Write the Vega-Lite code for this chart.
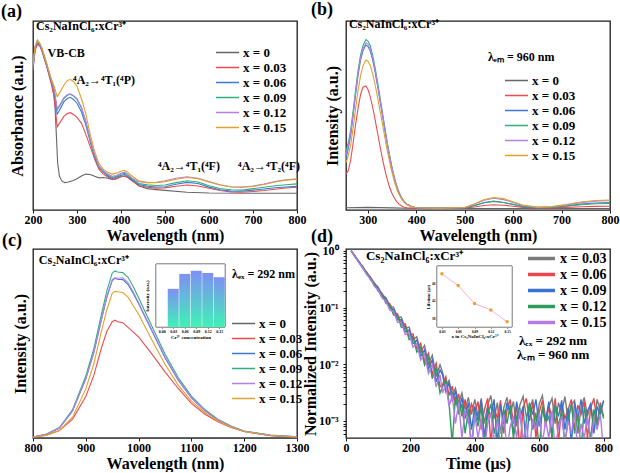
{
"$schema":"https://vega.github.io/schema/vega-lite/v6.json",
"padding":0,
"background":"white",
"columns":2,
"spacing":{"row":39,"column":49},
"bounds":"flush",
"config":{
 "font":"Liberation Serif",
 "view":{"stroke":"#1a1a1a","strokeWidth":1.3},
 "axis":{"grid":false,"domain":false,"labelFont":"Liberation Serif","labelFontWeight":"bold","labelFontSize":12,"labelColor":"#000","labelFlush":false,"labelPadding":1,"tickColor":"#1a1a1a","tickSize":3,"titleFont":"Liberation Serif","titleFontWeight":"bold","titleFontSize":16,"titleColor":"#000","titlePadding":2},
 "legend":{"labelFont":"Liberation Serif","labelFontWeight":"bold","labelFontSize":13,"labelColor":"#000","symbolType":"M-2,0H2","symbolSize":132,"rowPadding":1,"labelOffset":9},
 "title":{"font":"Liberation Serif","fontSize":18,"fontWeight":"bold","anchor":"start","frame":"group","color":"#000","offset":-1},
 "text":{"font":"Liberation Serif","fontWeight":"bold","fontSize":12,"color":"#000","align":"left","baseline":"middle"}
},
"resolve":{"scale":{"color":"independent","x":"independent","y":"independent"},"legend":{"color":"independent"}},
"concat":[
{
 "width":264,"height":189,
 "title":{"text":"(a)","dx":-32},
 "layer":[
  {"data":{"values":[
{"s":0,"w":200,"v":0.76},{"s":0,"w":205,"v":0.86},{"s":0,"w":210,"v":0.885},{"s":0,"w":215,"v":0.87},{"s":0,"w":220,"v":0.845},{"s":0,"w":230,"v":0.77},{"s":0,"w":240,"v":0.69},{"s":0,"w":245,"v":0.655},{"s":0,"w":250,"v":0.55},{"s":0,"w":253,"v":0.40},
{"s":0,"w":256,"v":0.25},{"s":0,"w":260,"v":0.18},{"s":0,"w":265,"v":0.155},{"s":0,"w":272,"v":0.145},{"s":0,"w":280,"v":0.148},{"s":0,"w":290,"v":0.155},{"s":0,"w":300,"v":0.165},{"s":0,"w":310,"v":0.18},{"s":0,"w":320,"v":0.19},{"s":0,"w":330,"v":0.188},
{"s":0,"w":340,"v":0.178},{"s":0,"w":350,"v":0.17},{"s":0,"w":360,"v":0.172},{"s":0,"w":370,"v":0.168},{"s":0,"w":380,"v":0.162},{"s":0,"w":390,"v":0.166},{"s":0,"w":400,"v":0.176},{"s":0,"w":408,"v":0.18},{"s":0,"w":415,"v":0.173},{"s":0,"w":425,"v":0.158},
{"s":0,"w":440,"v":0.128},{"s":0,"w":460,"v":0.113},{"s":0,"w":480,"v":0.108},{"s":0,"w":500,"v":0.104},{"s":0,"w":550,"v":0.094},{"s":0,"w":600,"v":0.09},{"s":0,"w":700,"v":0.089},{"s":0,"w":800,"v":0.089},
{"s":0.03,"w":200,"v":0.74},{"s":0.03,"w":205,"v":0.845},{"s":0.03,"w":210,"v":0.875},{"s":0.03,"w":215,"v":0.87},{"s":0.03,"w":220,"v":0.845},{"s":0.03,"w":230,"v":0.77},{"s":0.03,"w":240,"v":0.68},{"s":0.03,"w":248,"v":0.6},{"s":0.03,"w":255,"v":0.44},{"s":0.03,"w":262,"v":0.465},{"s":0.03,"w":270,"v":0.495},{"s":0.03,"w":278,"v":0.51},{"s":0.03,"w":285,"v":0.515},{"s":0.03,"w":292,"v":0.505},{"s":0.03,"w":300,"v":0.49},{"s":0.03,"w":310,"v":0.46},{"s":0.03,"w":320,"v":0.4},{"s":0.03,"w":330,"v":0.335},{"s":0.03,"w":340,"v":0.27},{"s":0.03,"w":350,"v":0.215},{"s":0.03,"w":360,"v":0.19},{"s":0.03,"w":370,"v":0.175},{"s":0.03,"w":380,"v":0.16},{"s":0.03,"w":390,"v":0.166},{"s":0.03,"w":400,"v":0.177},{"s":0.03,"w":408,"v":0.18},{"s":0.03,"w":415,"v":0.172},{"s":0.03,"w":425,"v":0.155},{"s":0.03,"w":440,"v":0.13},{"s":0.03,"w":460,"v":0.12},{"s":0.03,"w":480,"v":0.116},{"s":0.03,"w":500,"v":0.117},{"s":0.03,"w":525,"v":0.126},{"s":0.03,"w":550,"v":0.132},{"s":0.03,"w":575,"v":0.127},{"s":0.03,"w":600,"v":0.115},{"s":0.03,"w":625,"v":0.103},{"s":0.03,"w":650,"v":0.095},{"s":0.03,"w":675,"v":0.094},{"s":0.03,"w":700,"v":0.098},{"s":0.03,"w":725,"v":0.103},{"s":0.03,"w":750,"v":0.11},{"s":0.03,"w":775,"v":0.116},{"s":0.03,"w":800,"v":0.12},
{"s":0.06,"w":200,"v":0.76},{"s":0.06,"w":205,"v":0.86},{"s":0.06,"w":210,"v":0.885},{"s":0.06,"w":215,"v":0.875},{"s":0.06,"w":220,"v":0.85},{"s":0.06,"w":230,"v":0.775},{"s":0.06,"w":240,"v":0.695},{"s":0.06,"w":248,"v":0.63},{"s":0.06,"w":255,"v":0.507},{"s":0.06,"w":262,"v":0.535},{"s":0.06,"w":270,"v":0.572},{"s":0.06,"w":278,"v":0.59},{"s":0.06,"w":285,"v":0.596},{"s":0.06,"w":292,"v":0.585},{"s":0.06,"w":300,"v":0.565},{"s":0.06,"w":310,"v":0.52},{"s":0.06,"w":320,"v":0.45},{"s":0.06,"w":330,"v":0.36},{"s":0.06,"w":340,"v":0.28},{"s":0.06,"w":350,"v":0.225},{"s":0.06,"w":360,"v":0.2},{"s":0.06,"w":370,"v":0.18},{"s":0.06,"w":380,"v":0.167},{"s":0.06,"w":390,"v":0.173},{"s":0.06,"w":400,"v":0.183},{"s":0.06,"w":408,"v":0.188},{"s":0.06,"w":415,"v":0.178},{"s":0.06,"w":425,"v":0.16},{"s":0.06,"w":440,"v":0.135},{"s":0.06,"w":460,"v":0.126},{"s":0.06,"w":480,"v":0.122},{"s":0.06,"w":500,"v":0.123},{"s":0.06,"w":525,"v":0.136},{"s":0.06,"w":550,"v":0.146},{"s":0.06,"w":575,"v":0.14},{"s":0.06,"w":600,"v":0.121},{"s":0.06,"w":625,"v":0.107},{"s":0.06,"w":650,"v":0.1},{"s":0.06,"w":675,"v":0.099},{"s":0.06,"w":700,"v":0.105},{"s":0.06,"w":725,"v":0.111},{"s":0.06,"w":750,"v":0.118},{"s":0.06,"w":775,"v":0.122},{"s":0.06,"w":800,"v":0.125},
{"s":0.09,"w":200,"v":0.765},{"s":0.09,"w":205,"v":0.865},{"s":0.09,"w":210,"v":0.89},{"s":0.09,"w":215,"v":0.88},{"s":0.09,"w":220,"v":0.855},{"s":0.09,"w":230,"v":0.78},{"s":0.09,"w":240,"v":0.7},{"s":0.09,"w":248,"v":0.635},{"s":0.09,"w":255,"v":0.53},{"s":0.09,"w":262,"v":0.555},{"s":0.09,"w":270,"v":0.59},{"s":0.09,"w":278,"v":0.607},{"s":0.09,"w":285,"v":0.612},{"s":0.09,"w":292,"v":0.603},{"s":0.09,"w":300,"v":0.585},{"s":0.09,"w":310,"v":0.54},{"s":0.09,"w":320,"v":0.465},{"s":0.09,"w":330,"v":0.37},{"s":0.09,"w":340,"v":0.29},{"s":0.09,"w":350,"v":0.23},{"s":0.09,"w":360,"v":0.205},{"s":0.09,"w":370,"v":0.185},{"s":0.09,"w":380,"v":0.172},{"s":0.09,"w":390,"v":0.178},{"s":0.09,"w":400,"v":0.19},{"s":0.09,"w":408,"v":0.195},{"s":0.09,"w":415,"v":0.185},{"s":0.09,"w":425,"v":0.165},{"s":0.09,"w":440,"v":0.14},{"s":0.09,"w":460,"v":0.133},{"s":0.09,"w":480,"v":0.13},{"s":0.09,"w":500,"v":0.132},{"s":0.09,"w":525,"v":0.145},{"s":0.09,"w":550,"v":0.155},{"s":0.09,"w":575,"v":0.148},{"s":0.09,"w":600,"v":0.128},{"s":0.09,"w":625,"v":0.114},{"s":0.09,"w":650,"v":0.107},{"s":0.09,"w":675,"v":0.105},{"s":0.09,"w":700,"v":0.113},{"s":0.09,"w":725,"v":0.12},{"s":0.09,"w":750,"v":0.128},{"s":0.09,"w":775,"v":0.134},{"s":0.09,"w":800,"v":0.138},
{"s":0.12,"w":200,"v":0.765},{"s":0.12,"w":205,"v":0.865},{"s":0.12,"w":210,"v":0.89},{"s":0.12,"w":215,"v":0.88},{"s":0.12,"w":220,"v":0.855},{"s":0.12,"w":230,"v":0.78},{"s":0.12,"w":240,"v":0.7},{"s":0.12,"w":248,"v":0.64},{"s":0.12,"w":255,"v":0.535},{"s":0.12,"w":262,"v":0.56},{"s":0.12,"w":270,"v":0.595},{"s":0.12,"w":278,"v":0.61},{"s":0.12,"w":285,"v":0.615},{"s":0.12,"w":292,"v":0.605},{"s":0.12,"w":300,"v":0.59},{"s":0.12,"w":310,"v":0.545},{"s":0.12,"w":320,"v":0.47},{"s":0.12,"w":330,"v":0.375},{"s":0.12,"w":340,"v":0.295},{"s":0.12,"w":350,"v":0.232},{"s":0.12,"w":360,"v":0.207},{"s":0.12,"w":370,"v":0.19},{"s":0.12,"w":380,"v":0.178},{"s":0.12,"w":390,"v":0.183},{"s":0.12,"w":400,"v":0.195},{"s":0.12,"w":408,"v":0.2},{"s":0.12,"w":415,"v":0.19},{"s":0.12,"w":425,"v":0.17},{"s":0.12,"w":440,"v":0.15},{"s":0.12,"w":460,"v":0.145},{"s":0.12,"w":480,"v":0.147},{"s":0.12,"w":500,"v":0.155},{"s":0.12,"w":525,"v":0.168},{"s":0.12,"w":550,"v":0.176},{"s":0.12,"w":575,"v":0.168},{"s":0.12,"w":600,"v":0.15},{"s":0.12,"w":625,"v":0.134},{"s":0.12,"w":650,"v":0.123},{"s":0.12,"w":675,"v":0.121},{"s":0.12,"w":700,"v":0.127},{"s":0.12,"w":725,"v":0.137},{"s":0.12,"w":750,"v":0.15},{"s":0.12,"w":775,"v":0.16},{"s":0.12,"w":800,"v":0.165},
{"s":0.15,"w":200,"v":0.77},{"s":0.15,"w":205,"v":0.87},{"s":0.15,"w":210,"v":0.9},{"s":0.15,"w":215,"v":0.885},{"s":0.15,"w":220,"v":0.86},{"s":0.15,"w":230,"v":0.785},{"s":0.15,"w":240,"v":0.705},{"s":0.15,"w":248,"v":0.655},{"s":0.15,"w":255,"v":0.6},{"s":0.15,"w":262,"v":0.625},{"s":0.15,"w":270,"v":0.66},{"s":0.15,"w":278,"v":0.685},{"s":0.15,"w":285,"v":0.69},{"s":0.15,"w":292,"v":0.68},{"s":0.15,"w":300,"v":0.655},{"s":0.15,"w":310,"v":0.59},{"s":0.15,"w":320,"v":0.51},{"s":0.15,"w":330,"v":0.4},{"s":0.15,"w":340,"v":0.31},{"s":0.15,"w":350,"v":0.245},{"s":0.15,"w":360,"v":0.215},{"s":0.15,"w":370,"v":0.2},{"s":0.15,"w":380,"v":0.19},{"s":0.15,"w":390,"v":0.195},{"s":0.15,"w":400,"v":0.205},{"s":0.15,"w":408,"v":0.21},{"s":0.15,"w":415,"v":0.2},{"s":0.15,"w":425,"v":0.18},{"s":0.15,"w":440,"v":0.155},{"s":0.15,"w":460,"v":0.145},{"s":0.15,"w":480,"v":0.145},{"s":0.15,"w":500,"v":0.15},{"s":0.15,"w":525,"v":0.163},{"s":0.15,"w":550,"v":0.172},{"s":0.15,"w":575,"v":0.165},{"s":0.15,"w":600,"v":0.148},{"s":0.15,"w":625,"v":0.132},{"s":0.15,"w":650,"v":0.122},{"s":0.15,"w":675,"v":0.12},{"s":0.15,"w":700,"v":0.125},{"s":0.15,"w":725,"v":0.135},{"s":0.15,"w":750,"v":0.148},{"s":0.15,"w":775,"v":0.158},{"s":0.15,"w":800,"v":0.162}
  ]},
   "mark":{"type":"line","strokeWidth":1.1,"clip":true},
   "encoding":{
    "x":{"field":"w","type":"quantitative","scale":{"domain":[200,800],"nice":false,"zero":false},"axis":{"values":[200,250,300,350,400,450,500,550,600,650,700,750,800],"labelExpr":"datum.value % 100 == 0 ? datum.label : ''","title":"Wavelength (nm)"}},
    "y":{"field":"v","type":"quantitative","scale":{"domain":[0,1],"nice":false},"axis":{"labels":false,"ticks":false,"title":"Absorbance (a.u.)","titlePadding":8}},
    "color":{"field":"s","type":"nominal","scale":{"domain":[0,0.03,0.06,0.09,0.12,0.15],"range":["#666666","#ef4a4f","#3b78d6","#2fae7c","#b57fe9","#e2a12b"]},"legend":{"title":null,"orient":"none","legendX":188,"legendY":25,"symbolStrokeWidth":1.5,"labelExpr":"'x = ' + datum.label"}}
   }},
  {"data":{"values":[
{"w":206.8,"v":0.974,"lab":"Cs₂NaInCl₆:xCr³⁺"},{"w":233,"v":0.829,"lab":"VB-CB"},{"w":291,"v":0.688,"lab":"⁴A₂→⁴T₁(⁴P)"},{"w":484,"v":0.233,"lab":"⁴A₂→⁴T₁(⁴F)"},{"w":666,"v":0.233,"lab":"⁴A₂→⁴T₂(⁴F)"}
  ]},
   "mark":{"type":"text"},
   "encoding":{"x":{"field":"w","type":"quantitative"},"y":{"field":"v","type":"quantitative"},"text":{"field":"lab"}}}
 ]
},
{
 "width":264,"height":189,
 "title":{"text":"(b)","dx":-35},
 "layer":[
  {"data":{"values":[
{"s":0,"w":255,"v":0.012},{"s":0,"w":300,"v":0.014},{"s":0,"w":350,"v":0.011},{"s":0,"w":400,"v":0.008},{"s":0,"w":500,"v":0.008},{"s":0,"w":600,"v":0.008},{"s":0,"w":700,"v":0.008},{"s":0,"w":800,"v":0.008},
{"s":0.03,"w":255,"v":0.19},{"s":0.03,"w":260,"v":0.21},{"s":0.03,"w":265,"v":0.27},{"s":0.03,"w":270,"v":0.36},{"s":0.03,"w":275,"v":0.455},{"s":0.03,"w":280,"v":0.54},{"s":0.03,"w":285,"v":0.61},{"s":0.03,"w":290,"v":0.65},{"s":0.03,"w":296,"v":0.656},{"s":0.03,"w":300,"v":0.64},{"s":0.03,"w":305,"v":0.6},{"s":0.03,"w":310,"v":0.545},{"s":0.03,"w":315,"v":0.48},{"s":0.03,"w":320,"v":0.41},{"s":0.03,"w":325,"v":0.34},{"s":0.03,"w":330,"v":0.275},{"s":0.03,"w":335,"v":0.215},{"s":0.03,"w":340,"v":0.163},{"s":0.03,"w":345,"v":0.12},{"s":0.03,"w":350,"v":0.087},{"s":0.03,"w":355,"v":0.062},{"s":0.03,"w":360,"v":0.043},{"s":0.03,"w":365,"v":0.03},{"s":0.03,"w":370,"v":0.021},{"s":0.03,"w":375,"v":0.015},{"s":0.03,"w":380,"v":0.012},{"s":0.03,"w":390,"v":0.01},{"s":0.03,"w":400,"v":0.009},{"s":0.03,"w":450,"v":0.009},{"s":0.03,"w":500,"v":0.01},{"s":0.03,"w":520,"v":0.016},{"s":0.03,"w":540,"v":0.024},{"s":0.03,"w":560,"v":0.028},{"s":0.03,"w":580,"v":0.025},{"s":0.03,"w":600,"v":0.02},{"s":0.03,"w":620,"v":0.014},{"s":0.03,"w":650,"v":0.011},{"s":0.03,"w":680,"v":0.011},{"s":0.03,"w":710,"v":0.014},{"s":0.03,"w":740,"v":0.017},{"s":0.03,"w":770,"v":0.019},{"s":0.03,"w":800,"v":0.02},
{"s":0.06,"w":255,"v":0.27},{"s":0.06,"w":260,"v":0.33},{"s":0.06,"w":265,"v":0.4},{"s":0.06,"w":270,"v":0.505},{"s":0.06,"w":275,"v":0.615},{"s":0.06,"w":280,"v":0.715},{"s":0.06,"w":285,"v":0.793},{"s":0.06,"w":290,"v":0.842},{"s":0.06,"w":296,"v":0.873},{"s":0.06,"w":300,"v":0.866},{"s":0.06,"w":305,"v":0.842},{"s":0.06,"w":310,"v":0.794},{"s":0.06,"w":315,"v":0.731},{"s":0.06,"w":320,"v":0.658},{"s":0.06,"w":325,"v":0.581},{"s":0.06,"w":330,"v":0.503},{"s":0.06,"w":335,"v":0.426},{"s":0.06,"w":340,"v":0.348},{"s":0.06,"w":345,"v":0.281},{"s":0.06,"w":350,"v":0.218},{"s":0.06,"w":355,"v":0.165},{"s":0.06,"w":360,"v":0.121},{"s":0.06,"w":365,"v":0.087},{"s":0.06,"w":370,"v":0.063},{"s":0.06,"w":375,"v":0.044},{"s":0.06,"w":380,"v":0.031},{"s":0.06,"w":390,"v":0.018},{"s":0.06,"w":400,"v":0.012},{"s":0.06,"w":450,"v":0.01},{"s":0.06,"w":500,"v":0.012},{"s":0.06,"w":520,"v":0.023},{"s":0.06,"w":540,"v":0.038},{"s":0.06,"w":560,"v":0.045},{"s":0.06,"w":580,"v":0.04},{"s":0.06,"w":600,"v":0.029},{"s":0.06,"w":620,"v":0.018},{"s":0.06,"w":650,"v":0.012},{"s":0.06,"w":680,"v":0.014},{"s":0.06,"w":710,"v":0.022},{"s":0.06,"w":740,"v":0.031},{"s":0.06,"w":770,"v":0.037},{"s":0.06,"w":800,"v":0.039},
{"s":0.09,"w":255,"v":0.31},{"s":0.09,"w":260,"v":0.36},{"s":0.09,"w":265,"v":0.43},{"s":0.09,"w":270,"v":0.53},{"s":0.09,"w":275,"v":0.64},{"s":0.09,"w":280,"v":0.74},{"s":0.09,"w":285,"v":0.82},{"s":0.09,"w":290,"v":0.87},{"s":0.09,"w":296,"v":0.902},{"s":0.09,"w":300,"v":0.895},{"s":0.09,"w":305,"v":0.87},{"s":0.09,"w":310,"v":0.82},{"s":0.09,"w":315,"v":0.755},{"s":0.09,"w":320,"v":0.68},{"s":0.09,"w":325,"v":0.6},{"s":0.09,"w":330,"v":0.52},{"s":0.09,"w":335,"v":0.44},{"s":0.09,"w":340,"v":0.36},{"s":0.09,"w":345,"v":0.29},{"s":0.09,"w":350,"v":0.225},{"s":0.09,"w":355,"v":0.17},{"s":0.09,"w":360,"v":0.125},{"s":0.09,"w":365,"v":0.09},{"s":0.09,"w":370,"v":0.065},{"s":0.09,"w":375,"v":0.045},{"s":0.09,"w":380,"v":0.032},{"s":0.09,"w":390,"v":0.018},{"s":0.09,"w":400,"v":0.012},{"s":0.09,"w":450,"v":0.01},{"s":0.09,"w":500,"v":0.012},{"s":0.09,"w":520,"v":0.024},{"s":0.09,"w":540,"v":0.04},{"s":0.09,"w":560,"v":0.047},{"s":0.09,"w":580,"v":0.04},{"s":0.09,"w":600,"v":0.03},{"s":0.09,"w":620,"v":0.019},{"s":0.09,"w":650,"v":0.012},{"s":0.09,"w":680,"v":0.014},{"s":0.09,"w":710,"v":0.021},{"s":0.09,"w":740,"v":0.028},{"s":0.09,"w":770,"v":0.033},{"s":0.09,"w":800,"v":0.034},
{"s":0.12,"w":255,"v":0.29},{"s":0.12,"w":260,"v":0.345},{"s":0.12,"w":265,"v":0.415},{"s":0.12,"w":270,"v":0.515},{"s":0.12,"w":275,"v":0.625},{"s":0.12,"w":280,"v":0.725},{"s":0.12,"w":285,"v":0.805},{"s":0.12,"w":290,"v":0.853},{"s":0.12,"w":296,"v":0.885},{"s":0.12,"w":300,"v":0.878},{"s":0.12,"w":305,"v":0.854},{"s":0.12,"w":310,"v":0.805},{"s":0.12,"w":315,"v":0.741},{"s":0.12,"w":320,"v":0.667},{"s":0.12,"w":325,"v":0.589},{"s":0.12,"w":330,"v":0.51},{"s":0.12,"w":335,"v":0.432},{"s":0.12,"w":340,"v":0.353},{"s":0.12,"w":345,"v":0.285},{"s":0.12,"w":350,"v":0.221},{"s":0.12,"w":355,"v":0.167},{"s":0.12,"w":360,"v":0.123},{"s":0.12,"w":365,"v":0.089},{"s":0.12,"w":370,"v":0.064},{"s":0.12,"w":375,"v":0.045},{"s":0.12,"w":380,"v":0.032},{"s":0.12,"w":390,"v":0.018},{"s":0.12,"w":400,"v":0.012},{"s":0.12,"w":450,"v":0.01},{"s":0.12,"w":500,"v":0.013},{"s":0.12,"w":520,"v":0.03},{"s":0.12,"w":540,"v":0.052},{"s":0.12,"w":560,"v":0.062},{"s":0.12,"w":580,"v":0.055},{"s":0.12,"w":600,"v":0.04},{"s":0.12,"w":620,"v":0.024},{"s":0.12,"w":650,"v":0.014},{"s":0.12,"w":680,"v":0.017},{"s":0.12,"w":710,"v":0.027},{"s":0.12,"w":740,"v":0.039},{"s":0.12,"w":770,"v":0.047},{"s":0.12,"w":800,"v":0.05},
{"s":0.15,"w":255,"v":0.25},{"s":0.15,"w":260,"v":0.29},{"s":0.15,"w":265,"v":0.35},{"s":0.15,"w":270,"v":0.44},{"s":0.15,"w":275,"v":0.54},{"s":0.15,"w":280,"v":0.635},{"s":0.15,"w":285,"v":0.71},{"s":0.15,"w":290,"v":0.762},{"s":0.15,"w":296,"v":0.794},{"s":0.15,"w":300,"v":0.788},{"s":0.15,"w":305,"v":0.766},{"s":0.15,"w":310,"v":0.722},{"s":0.15,"w":315,"v":0.664},{"s":0.15,"w":320,"v":0.598},{"s":0.15,"w":325,"v":0.528},{"s":0.15,"w":330,"v":0.458},{"s":0.15,"w":335,"v":0.387},{"s":0.15,"w":340,"v":0.317},{"s":0.15,"w":345,"v":0.255},{"s":0.15,"w":350,"v":0.198},{"s":0.15,"w":355,"v":0.15},{"s":0.15,"w":360,"v":0.11},{"s":0.15,"w":365,"v":0.079},{"s":0.15,"w":370,"v":0.057},{"s":0.15,"w":375,"v":0.04},{"s":0.15,"w":380,"v":0.029},{"s":0.15,"w":390,"v":0.017},{"s":0.15,"w":400,"v":0.012},{"s":0.15,"w":450,"v":0.01},{"s":0.15,"w":500,"v":0.013},{"s":0.15,"w":520,"v":0.032},{"s":0.15,"w":540,"v":0.056},{"s":0.15,"w":560,"v":0.066},{"s":0.15,"w":580,"v":0.06},{"s":0.15,"w":600,"v":0.044},{"s":0.15,"w":620,"v":0.026},{"s":0.15,"w":650,"v":0.015},{"s":0.15,"w":680,"v":0.018},{"s":0.15,"w":710,"v":0.029},{"s":0.15,"w":740,"v":0.042},{"s":0.15,"w":770,"v":0.05},{"s":0.15,"w":800,"v":0.053}
  ]},
   "mark":{"type":"line","strokeWidth":1.1,"clip":true},
   "encoding":{
    "x":{"field":"w","type":"quantitative","scale":{"domain":[255,800],"nice":false,"zero":false},"axis":{"values":[300,350,400,450,500,550,600,650,700,750,800],"labelExpr":"datum.value % 100 == 0 ? datum.label : ''","title":"Wavelength (nm)"}},
    "y":{"field":"v","type":"quantitative","scale":{"domain":[0,1],"nice":false},"axis":{"labels":false,"ticks":false,"title":"Intensity (a.u.)","titlePadding":6}},
    "color":{"field":"s","type":"nominal","scale":{"domain":[0,0.03,0.06,0.09,0.12,0.15],"range":["#666666","#ef4a4f","#3b78d6","#2fae7c","#b57fe9","#e2a12b"]},"legend":{"title":null,"orient":"none","legendX":164,"legendY":53,"symbolStrokeWidth":1.5,"labelExpr":"'x = ' + datum.label"}}
   }},
  {"data":{"values":[
{"w":261,"v":0.984,"lab":"Cs₂NaInCl₆:xCr³⁺"},{"w":548,"v":0.81,"lab":"λₑₘ = 960 nm"}
  ]},
   "mark":{"type":"text"},
   "encoding":{"x":{"field":"w","type":"quantitative"},"y":{"field":"v","type":"quantitative"},"text":{"field":"lab"}}}
 ]
},
{
 "width":264,"height":189,
 "title":{"text":"(c)","dx":-31},
 "resolve":{"scale":{"x":"independent","y":"independent"}},
 "layer":[
  {"layer":[
   {"data":{"values":[
{"s":0,"w":800,"v":0.003},{"s":0,"w":1050,"v":0.003},{"s":0,"w":1300,"v":0.003},
{"s":0.03,"w":800,"v":0.005},{"s":0.03,"w":825,"v":0.015},{"s":0.03,"w":850,"v":0.04},{"s":0.03,"w":875,"v":0.1},{"s":0.03,"w":900,"v":0.22},{"s":0.03,"w":915,"v":0.33},{"s":0.03,"w":930,"v":0.48},{"s":0.03,"w":940,"v":0.565},{"s":0.03,"w":950,"v":0.615},{"s":0.03,"w":955,"v":0.623},{"s":0.03,"w":960,"v":0.615},{"s":0.03,"w":970,"v":0.61},{"s":0.03,"w":980,"v":0.585},{"s":0.03,"w":990,"v":0.56},{"s":0.03,"w":1000,"v":0.535},{"s":0.03,"w":1025,"v":0.445},{"s":0.03,"w":1050,"v":0.35},{"s":0.03,"w":1075,"v":0.262},{"s":0.03,"w":1100,"v":0.183},{"s":0.03,"w":1125,"v":0.127},{"s":0.03,"w":1150,"v":0.086},{"s":0.03,"w":1175,"v":0.056},{"s":0.03,"w":1200,"v":0.034},{"s":0.03,"w":1250,"v":0.012},{"s":0.03,"w":1300,"v":0.004},
{"s":0.06,"w":800,"v":0.005},{"s":0.06,"w":825,"v":0.019},{"s":0.06,"w":850,"v":0.052},{"s":0.06,"w":875,"v":0.143},{"s":0.06,"w":900,"v":0.313},{"s":0.06,"w":915,"v":0.449},{"s":0.06,"w":930,"v":0.63},{"s":0.06,"w":940,"v":0.745},{"s":0.06,"w":950,"v":0.833},{"s":0.06,"w":955,"v":0.845},{"s":0.06,"w":960,"v":0.84},{"s":0.06,"w":970,"v":0.838},{"s":0.06,"w":980,"v":0.812},{"s":0.06,"w":990,"v":0.765},{"s":0.06,"w":1000,"v":0.71},{"s":0.06,"w":1025,"v":0.568},{"s":0.06,"w":1050,"v":0.425},{"s":0.06,"w":1075,"v":0.306},{"s":0.06,"w":1100,"v":0.212},{"s":0.06,"w":1125,"v":0.145},{"s":0.06,"w":1150,"v":0.095},{"s":0.06,"w":1175,"v":0.06},{"s":0.06,"w":1200,"v":0.035},{"s":0.06,"w":1250,"v":0.014},{"s":0.06,"w":1300,"v":0.006},
{"s":0.09,"w":800,"v":0.005},{"s":0.09,"w":825,"v":0.02},{"s":0.09,"w":850,"v":0.055},{"s":0.09,"w":875,"v":0.15},{"s":0.09,"w":900,"v":0.328},{"s":0.09,"w":915,"v":0.47},{"s":0.09,"w":930,"v":0.66},{"s":0.09,"w":940,"v":0.78},{"s":0.09,"w":950,"v":0.872},{"s":0.09,"w":955,"v":0.884},{"s":0.09,"w":960,"v":0.878},{"s":0.09,"w":970,"v":0.875},{"s":0.09,"w":980,"v":0.85},{"s":0.09,"w":990,"v":0.8},{"s":0.09,"w":1000,"v":0.742},{"s":0.09,"w":1025,"v":0.593},{"s":0.09,"w":1050,"v":0.444},{"s":0.09,"w":1075,"v":0.32},{"s":0.09,"w":1100,"v":0.222},{"s":0.09,"w":1125,"v":0.152},{"s":0.09,"w":1150,"v":0.099},{"s":0.09,"w":1175,"v":0.063},{"s":0.09,"w":1200,"v":0.037},{"s":0.09,"w":1250,"v":0.015},{"s":0.09,"w":1300,"v":0.006},
{"s":0.12,"w":800,"v":0.005},{"s":0.12,"w":825,"v":0.019},{"s":0.12,"w":850,"v":0.053},{"s":0.12,"w":875,"v":0.145},{"s":0.12,"w":900,"v":0.315},{"s":0.12,"w":915,"v":0.452},{"s":0.12,"w":930,"v":0.635},{"s":0.12,"w":940,"v":0.75},{"s":0.12,"w":950,"v":0.838},{"s":0.12,"w":955,"v":0.848},{"s":0.12,"w":960,"v":0.845},{"s":0.12,"w":970,"v":0.848},{"s":0.12,"w":980,"v":0.822},{"s":0.12,"w":990,"v":0.772},{"s":0.12,"w":1000,"v":0.716},{"s":0.12,"w":1025,"v":0.573},{"s":0.12,"w":1050,"v":0.43},{"s":0.12,"w":1075,"v":0.31},{"s":0.12,"w":1100,"v":0.215},{"s":0.12,"w":1125,"v":0.147},{"s":0.12,"w":1150,"v":0.096},{"s":0.12,"w":1175,"v":0.061},{"s":0.12,"w":1200,"v":0.036},{"s":0.12,"w":1250,"v":0.014},{"s":0.12,"w":1300,"v":0.006},
{"s":0.15,"w":800,"v":0.004},{"s":0.15,"w":825,"v":0.014},{"s":0.15,"w":850,"v":0.04},{"s":0.15,"w":875,"v":0.11},{"s":0.15,"w":900,"v":0.26},{"s":0.15,"w":915,"v":0.39},{"s":0.15,"w":930,"v":0.57},{"s":0.15,"w":940,"v":0.68},{"s":0.15,"w":950,"v":0.765},{"s":0.15,"w":955,"v":0.776},{"s":0.15,"w":960,"v":0.774},{"s":0.15,"w":970,"v":0.77},{"s":0.15,"w":980,"v":0.745},{"s":0.15,"w":990,"v":0.7},{"s":0.15,"w":1000,"v":0.655},{"s":0.15,"w":1025,"v":0.52},{"s":0.15,"w":1050,"v":0.39},{"s":0.15,"w":1075,"v":0.28},{"s":0.15,"w":1100,"v":0.195},{"s":0.15,"w":1125,"v":0.135},{"s":0.15,"w":1150,"v":0.09},{"s":0.15,"w":1175,"v":0.058},{"s":0.15,"w":1200,"v":0.034},{"s":0.15,"w":1250,"v":0.013},{"s":0.15,"w":1300,"v":0.005}
   ]},
    "mark":{"type":"line","strokeWidth":1.1,"clip":true},
    "encoding":{
     "x":{"field":"w","type":"quantitative","scale":{"domain":[800,1300],"nice":false,"zero":false},"axis":{"values":[800,850,900,950,1000,1050,1100,1150,1200,1250,1300],"format":"d","labelExpr":"datum.value % 100 == 0 ? datum.label : ''","title":"Wavelength (nm)"}},
     "y":{"field":"v","type":"quantitative","scale":{"domain":[0,1],"nice":false},"axis":{"labels":false,"ticks":false,"title":"Intensity (a.u.)","titlePadding":5}},
     "color":{"field":"s","type":"nominal","scale":{"domain":[0,0.03,0.06,0.09,0.12,0.15],"range":["#666666","#ef4a4f","#3b78d6","#2fae7c","#b57fe9","#e2a12b"]},"legend":{"title":null,"orient":"none","legendX":204,"legendY":68,"symbolStrokeWidth":1.5,"labelExpr":"'x = ' + datum.label"}}
    }},
   {"data":{"values":[
{"w":811,"v":0.942,"lab":"Cs₂NaInCl₆:xCr³⁺"},{"w":1177,"v":0.868,"lab":"λₑₓ = 292 nm"}
   ]},
    "mark":{"type":"text"},
    "encoding":{"x":{"field":"w","type":"quantitative"},"y":{"field":"v","type":"quantitative"},"text":{"field":"lab"}}}
  ]},
  {"data":{"values":[
{"c":0,"i":0},{"c":0.03,"i":0.678},{"c":0.06,"i":0.943},{"c":0.09,"i":1.0},{"c":0.12,"i":0.961},{"c":0.15,"i":0.885}
  ]},
   "layer":[
    {"mark":{"type":"rect","fill":"white","stroke":"#9a9a9a","strokeWidth":0.8},
     "encoding":{
      "x":{"datum":-0.015,"type":"quantitative","scale":{"domain":[-0.015,0.165],"range":[118,197],"nice":false,"zero":false},"axis":{"orient":"bottom","offset":-111,"values":[0,0.03,0.06,0.09,0.12,0.15],"format":".2f","labelFontSize":4,"labelPadding":1,"tickSize":1,"title":"Cr³⁺ concentration","titleFontSize":5,"titlePadding":1}},
      "x2":{"datum":0.165},
      "y":{"datum":0,"type":"quantitative","scale":{"domain":[0,1.12],"range":[78,15],"nice":false},"axis":{"orient":"left","offset":-118,"labels":false,"ticks":false,"title":"Intensity (a.u.)","titleFontSize":5,"titlePadding":2}},
      "y2":{"datum":1.12}
     }},
    {"mark":{"type":"bar","size":11,"color":{"gradient":"linear","x1":0,"y1":0,"x2":0,"y2":1,"stops":[{"offset":0,"color":"#7f8ff4"},{"offset":1,"color":"#3ff2b6"}]}},
     "encoding":{
      "x":{"field":"c","type":"quantitative"},
      "y":{"field":"i","type":"quantitative"},
      "y2":{"datum":0}
     }}
   ]}
 ]
},
{
 "width":264,"height":189,
 "title":{"text":"(d)","dx":-35},
 "resolve":{"scale":{"x":"independent","y":"independent"}},
 "layer":[
  {"layer":[
   {"data":{"values":[
{"s":0.03,"t":16,"v":1},{"s":0.03,"t":28,"v":0.821},{"s":0.03,"t":40,"v":0.636},{"s":0.03,"t":52,"v":0.539},{"s":0.03,"t":64,"v":0.409},{"s":0.03,"t":76,"v":0.347},{"s":0.03,"t":88,"v":0.269},{"s":0.03,"t":100,"v":0.23},{"s":0.03,"t":112,"v":0.169},{"s":0.03,"t":124,"v":0.15},{"s":0.03,"t":136,"v":0.1086},{"s":0.03,"t":148,"v":0.1005},{"s":0.03,"t":160,"v":0.0675},{"s":0.03,"t":172,"v":0.0676},{"s":0.03,"t":184,"v":0.0429},{"s":0.03,"t":196,"v":0.0452},{"s":0.03,"t":208,"v":0.0269},{"s":0.03,"t":220,"v":0.0306},{"s":0.03,"t":232,"v":0.0164},{"s":0.03,"t":244,"v":0.0215},{"s":0.03,"t":256,"v":0.01},{"s":0.03,"t":268,"v":0.0145},{"s":0.03,"t":280,"v":0.0061},{"s":0.03,"t":292,"v":0.0098},
{"s":0.03,"t":300,"v":0.0072},{"s":0.03,"t":310,"v":0.0041},{"s":0.03,"t":320,"v":0.0052},{"s":0.03,"t":330,"v":0.0029},{"s":0.03,"t":340,"v":0.0038},{"s":0.03,"t":350,"v":0.0021},{"s":0.03,"t":360,"v":0.0031},{"s":0.03,"t":370,"v":0.0016},{"s":0.03,"t":380,"v":0.0026},{"s":0.03,"t":390,"v":0.0013},{"s":0.03,"t":400,"v":0.0024},
{"s":0.03,"t":410,"v":0.0012},{"s":0.03,"t":420,"v":0.0025},{"s":0.03,"t":430,"v":0.0009},{"s":0.03,"t":440,"v":0.0019},{"s":0.03,"t":450,"v":0.0028},{"s":0.03,"t":460,"v":0.0011},{"s":0.03,"t":470,"v":0.0021},{"s":0.03,"t":480,"v":0.0006},{"s":0.03,"t":490,"v":0.0017},{"s":0.03,"t":500,"v":0.0026},{"s":0.03,"t":510,"v":0.0013},{"s":0.03,"t":520,"v":0.0022},{"s":0.03,"t":530,"v":0.0008},{"s":0.03,"t":540,"v":0.0019},{"s":0.03,"t":550,"v":0.0027},{"s":0.03,"t":560,"v":0.0012},{"s":0.03,"t":570,"v":0.0016},{"s":0.03,"t":580,"v":0.0024},{"s":0.03,"t":590,"v":0.0007},{"s":0.03,"t":600,"v":0.002},{"s":0.03,"t":610,"v":0.0028},{"s":0.03,"t":620,"v":0.0011},{"s":0.03,"t":630,"v":0.0018},{"s":0.03,"t":640,"v":0.0025},{"s":0.03,"t":650,"v":0.0009},{"s":0.03,"t":660,"v":0.0021},{"s":0.03,"t":670,"v":0.0014},{"s":0.03,"t":680,"v":0.0027},{"s":0.03,"t":690,"v":0.001},{"s":0.03,"t":700,"v":0.0019},{"s":0.03,"t":710,"v":0.0023},{"s":0.03,"t":720,"v":0.0006},{"s":0.03,"t":730,"v":0.0017},{"s":0.03,"t":740,"v":0.0026},{"s":0.03,"t":750,"v":0.0012},{"s":0.03,"t":760,"v":0.002},{"s":0.03,"t":770,"v":0.0008},{"s":0.03,"t":780,"v":0.0024},{"s":0.03,"t":790,"v":0.0015},{"s":0.03,"t":800,"v":0.0022},
{"s":0.06,"t":16,"v":1},{"s":0.06,"t":28,"v":0.786},{"s":0.06,"t":40,"v":0.656},{"s":0.06,"t":52,"v":0.5},{"s":0.06,"t":64,"v":0.425},{"s":0.06,"t":76,"v":0.324},{"s":0.06,"t":88,"v":0.273},{"s":0.06,"t":100,"v":0.204},{"s":0.06,"t":112,"v":0.18},{"s":0.06,"t":124,"v":0.129},{"s":0.06,"t":136,"v":0.1173},{"s":0.06,"t":148,"v":0.0809},{"s":0.06,"t":160,"v":0.0776},{"s":0.06,"t":172,"v":0.0497},{"s":0.06,"t":184,"v":0.0516},{"s":0.06,"t":196,"v":0.0309},{"s":0.06,"t":208,"v":0.0343},{"s":0.06,"t":220,"v":0.0186},{"s":0.06,"t":232,"v":0.0234},{"s":0.06,"t":244,"v":0.0113},{"s":0.06,"t":256,"v":0.0156},{"s":0.06,"t":268,"v":0.0067},{"s":0.06,"t":280,"v":0.0104},{"s":0.06,"t":292,"v":0.004},
{"s":0.06,"t":300,"v":0.0044},{"s":0.06,"t":310,"v":0.006},{"s":0.06,"t":320,"v":0.0028},{"s":0.06,"t":330,"v":0.0041},{"s":0.06,"t":340,"v":0.0019},{"s":0.06,"t":350,"v":0.003},{"s":0.06,"t":360,"v":0.0012},{"s":0.06,"t":370,"v":0.0024},{"s":0.06,"t":380,"v":0.0009},{"s":0.06,"t":390,"v":0.002},{"s":0.06,"t":400,"v":0.0014},
{"s":0.06,"t":410,"v":0.0022},{"s":0.06,"t":420,"v":0.0007},{"s":0.06,"t":430,"v":0.0016},{"s":0.06,"t":440,"v":0.0025},{"s":0.06,"t":450,"v":0.0004},{"s":0.06,"t":460,"v":0.0018},{"s":0.06,"t":470,"v":0.0011},{"s":0.06,"t":480,"v":0.0023},{"s":0.06,"t":490,"v":0.0006},{"s":0.06,"t":500,"v":0.0015},{"s":0.06,"t":510,"v":0.0024},{"s":0.06,"t":520,"v":0.0009},{"s":0.06,"t":530,"v":0.0019},{"s":0.06,"t":540,"v":0.0003},{"s":0.06,"t":550,"v":0.0017},{"s":0.06,"t":560,"v":0.0025},{"s":0.06,"t":570,"v":0.001},{"s":0.06,"t":580,"v":0.0021},{"s":0.06,"t":590,"v":0.0005},{"s":0.06,"t":600,"v":0.0014},{"s":0.06,"t":610,"v":0.0023},{"s":0.06,"t":620,"v":0.0008},{"s":0.06,"t":630,"v":0.0018},{"s":0.06,"t":640,"v":0.0012},{"s":0.06,"t":650,"v":0.0025},{"s":0.06,"t":660,"v":0.0004},{"s":0.06,"t":670,"v":0.002},{"s":0.06,"t":680,"v":0.0011},{"s":0.06,"t":690,"v":0.0016},{"s":0.06,"t":700,"v":0.0024},{"s":0.06,"t":710,"v":0.0007},{"s":0.06,"t":720,"v":0.0019},{"s":0.06,"t":730,"v":0.0013},{"s":0.06,"t":740,"v":0.0022},{"s":0.06,"t":750,"v":0.0005},{"s":0.06,"t":760,"v":0.0017},{"s":0.06,"t":770,"v":0.0025},{"s":0.06,"t":780,"v":0.0009},{"s":0.06,"t":790,"v":0.0021},{"s":0.06,"t":800,"v":0.0012},
{"s":0.09,"t":16,"v":1},{"s":0.09,"t":28,"v":0.807},{"s":0.09,"t":40,"v":0.632},{"s":0.09,"t":52,"v":0.519},{"s":0.09,"t":64,"v":0.399},{"s":0.09,"t":76,"v":0.335},{"s":0.09,"t":88,"v":0.252},{"s":0.09,"t":100,"v":0.217},{"s":0.09,"t":112,"v":0.159},{"s":0.09,"t":124,"v":0.14},{"s":0.09,"t":136,"v":0.0983},{"s":0.09,"t":148,"v":0.0921},{"s":0.09,"t":160,"v":0.0614},{"s":0.09,"t":172,"v":0.061},{"s":0.09,"t":184,"v":0.0375},{"s":0.09,"t":196,"v":0.0402},{"s":0.09,"t":208,"v":0.0231},{"s":0.09,"t":220,"v":0.0267},{"s":0.09,"t":232,"v":0.0137},{"s":0.09,"t":244,"v":0.0179},{"s":0.09,"t":256,"v":0.0083},{"s":0.09,"t":268,"v":0.0119},{"s":0.09,"t":280,"v":0.0049},{"s":0.09,"t":292,"v":0.0079},
{"s":0.09,"t":300,"v":0.0065},{"s":0.09,"t":310,"v":0.0033},{"s":0.09,"t":320,"v":0.0047},{"s":0.09,"t":330,"v":0.0022},{"s":0.09,"t":340,"v":0.0034},{"s":0.09,"t":350,"v":0.0014},{"s":0.09,"t":360,"v":0.0026},{"s":0.09,"t":370,"v":0.0011},{"s":0.09,"t":380,"v":0.0021},{"s":0.09,"t":390,"v":0.0007},{"s":0.09,"t":400,"v":0.0018},
{"s":0.09,"t":410,"v":0.001},{"s":0.09,"t":420,"v":0.0023},{"s":0.09,"t":430,"v":0.0005},{"s":0.09,"t":440,"v":0.0017},{"s":0.09,"t":450,"v":0.0012},{"s":0.09,"t":460,"v":0.0024},{"s":0.09,"t":470,"v":0.0004},{"s":0.09,"t":480,"v":0.0019},{"s":0.09,"t":490,"v":0.0009},{"s":0.09,"t":500,"v":0.0021},{"s":0.09,"t":510,"v":0.0014},{"s":0.09,"t":520,"v":0.0006},{"s":0.09,"t":530,"v":0.0022},{"s":0.09,"t":540,"v":0.0011},{"s":0.09,"t":550,"v":0.0018},{"s":0.09,"t":560,"v":0.0003},{"s":0.09,"t":570,"v":0.002},{"s":0.09,"t":580,"v":0.0013},{"s":0.09,"t":590,"v":0.0024},{"s":0.09,"t":600,"v":0.0008},{"s":0.09,"t":610,"v":0.0016},{"s":0.09,"t":620,"v":0.001},{"s":0.09,"t":630,"v":0.0022},{"s":0.09,"t":640,"v":0.0005},{"s":0.09,"t":650,"v":0.0019},{"s":0.09,"t":660,"v":0.0012},{"s":0.09,"t":670,"v":0.0023},{"s":0.09,"t":680,"v":0.0007},{"s":0.09,"t":690,"v":0.0017},{"s":0.09,"t":700,"v":0.0004},{"s":0.09,"t":710,"v":0.0021},{"s":0.09,"t":720,"v":0.0011},{"s":0.09,"t":730,"v":0.0024},{"s":0.09,"t":740,"v":0.0009},{"s":0.09,"t":750,"v":0.0015},{"s":0.09,"t":760,"v":0.002},{"s":0.09,"t":770,"v":0.0006},{"s":0.09,"t":780,"v":0.0018},{"s":0.09,"t":790,"v":0.0013},{"s":0.09,"t":800,"v":0.0023},
{"s":0.12,"t":16,"v":1},{"s":0.12,"t":28,"v":0.788},{"s":0.12,"t":40,"v":0.64},{"s":0.12,"t":52,"v":0.494},{"s":0.12,"t":64,"v":0.413},{"s":0.12,"t":76,"v":0.309},{"s":0.12,"t":88,"v":0.264},{"s":0.12,"t":100,"v":0.194},{"s":0.12,"t":112,"v":0.171},{"s":0.12,"t":124,"v":0.119},{"s":0.12,"t":136,"v":0.11},{"s":0.12,"t":148,"v":0.0738},{"s":0.12,"t":160,"v":0.0717},{"s":0.12,"t":172,"v":0.0447},{"s":0.12,"t":184,"v":0.047},{"s":0.12,"t":196,"v":0.0273},{"s":0.12,"t":208,"v":0.0308},{"s":0.12,"t":220,"v":0.0163},{"s":0.12,"t":232,"v":0.0203},{"s":0.12,"t":244,"v":0.0097},{"s":0.12,"t":256,"v":0.0135},{"s":0.12,"t":268,"v":0.0056},{"s":0.12,"t":280,"v":0.0089},{"s":0.12,"t":292,"v":0.0031},
{"s":0.12,"t":300,"v":0.004},{"s":0.12,"t":310,"v":0.0052},{"s":0.12,"t":320,"v":0.0021},{"s":0.12,"t":330,"v":0.0004},{"s":0.12,"t":340,"v":0.0027},{"s":0.12,"t":350,"v":0.0013},{"s":0.12,"t":360,"v":0.002},{"s":0.12,"t":370,"v":0.0006},{"s":0.12,"t":380,"v":0.0016},{"s":0.12,"t":390,"v":0.0003},{"s":0.12,"t":400,"v":0.0014},
{"s":0.12,"t":410,"v":0.0008},{"s":0.12,"t":420,"v":0.0018},{"s":0.12,"t":430,"v":0.0004},{"s":0.12,"t":440,"v":0.0013},{"s":0.12,"t":450,"v":0.002},{"s":0.12,"t":460,"v":0.0006},{"s":0.12,"t":470,"v":0.0011},{"s":0.12,"t":480,"v":0.0003},{"s":0.12,"t":490,"v":0.0016},{"s":0.12,"t":500,"v":0.0009},{"s":0.12,"t":510,"v":0.0019},{"s":0.12,"t":520,"v":0.0005},{"s":0.12,"t":530,"v":0.0012},{"s":0.12,"t":540,"v":0.0017},{"s":0.12,"t":550,"v":0.0004},{"s":0.12,"t":560,"v":0.001},{"s":0.12,"t":570,"v":0.0021},{"s":0.12,"t":580,"v":0.0007},{"s":0.12,"t":590,"v":0.0014},{"s":0.12,"t":600,"v":0.0003},{"s":0.12,"t":610,"v":0.0018},{"s":0.12,"t":620,"v":0.0009},{"s":0.12,"t":630,"v":0.0012},{"s":0.12,"t":640,"v":0.0005},{"s":0.12,"t":650,"v":0.0019},{"s":0.12,"t":660,"v":0.0008},{"s":0.12,"t":670,"v":0.0015},{"s":0.12,"t":680,"v":0.0004},{"s":0.12,"t":690,"v":0.0011},{"s":0.12,"t":700,"v":0.002},{"s":0.12,"t":710,"v":0.0006},{"s":0.12,"t":720,"v":0.0013},{"s":0.12,"t":730,"v":0.0003},{"s":0.12,"t":740,"v":0.0017},{"s":0.12,"t":750,"v":0.001},{"s":0.12,"t":760,"v":0.0005},{"s":0.12,"t":770,"v":0.0016},{"s":0.12,"t":780,"v":0.0008},{"s":0.12,"t":790,"v":0.0019},{"s":0.12,"t":800,"v":0.0011},
{"s":0.15,"t":16,"v":1},{"s":0.15,"t":28,"v":0.801},{"s":0.15,"t":40,"v":0.615},{"s":0.15,"t":52,"v":0.508},{"s":0.15,"t":64,"v":0.383},{"s":0.15,"t":76,"v":0.322},{"s":0.15,"t":88,"v":0.238},{"s":0.15,"t":100,"v":0.205},{"s":0.15,"t":112,"v":0.147},{"s":0.15,"t":124,"v":0.131},{"s":0.15,"t":136,"v":0.0903},{"s":0.15,"t":148,"v":0.0848},{"s":0.15,"t":160,"v":0.0549},{"s":0.15,"t":172,"v":0.0548},{"s":0.15,"t":184,"v":0.0333},{"s":0.15,"t":196,"v":0.0356},{"s":0.15,"t":208,"v":0.02},{"s":0.15,"t":220,"v":0.0232},{"s":0.15,"t":232,"v":0.0119},{"s":0.15,"t":244,"v":0.0151},{"s":0.15,"t":256,"v":0.0069},{"s":0.15,"t":268,"v":0.0099},{"s":0.15,"t":280,"v":0.004},{"s":0.15,"t":292,"v":0.0065},
{"s":0.15,"t":300,"v":0.0031},{"s":0.15,"t":310,"v":0.0045},{"s":0.15,"t":320,"v":0.0018},{"s":0.15,"t":330,"v":0.0028},{"s":0.15,"t":340,"v":0.0009},{"s":0.15,"t":350,"v":0.0021},{"s":0.15,"t":360,"v":0.0005},{"s":0.15,"t":370,"v":0.0015},{"s":0.15,"t":380,"v":0.0011},{"s":0.15,"t":390,"v":0.0004},{"s":0.15,"t":400,"v":0.0013},
{"s":0.15,"t":410,"v":0.0005},{"s":0.15,"t":420,"v":0.0011},{"s":0.15,"t":430,"v":0.0003},{"s":0.15,"t":440,"v":0.0009},{"s":0.15,"t":450,"v":0.0014},{"s":0.15,"t":460,"v":0.0004},{"s":0.15,"t":470,"v":0.001},{"s":0.15,"t":480,"v":0.0006},{"s":0.15,"t":490,"v":0.0013},{"s":0.15,"t":500,"v":0.0003},{"s":0.15,"t":510,"v":0.0008},{"s":0.15,"t":520,"v":0.0012},{"s":0.15,"t":530,"v":0.0005},{"s":0.15,"t":540,"v":0.0016},{"s":0.15,"t":550,"v":0.0004},{"s":0.15,"t":560,"v":0.0009},{"s":0.15,"t":570,"v":0.0003},{"s":0.15,"t":580,"v":0.0011},{"s":0.15,"t":590,"v":0.0007},{"s":0.15,"t":600,"v":0.0013},{"s":0.15,"t":610,"v":0.0004},{"s":0.15,"t":620,"v":0.001},{"s":0.15,"t":630,"v":0.0005},{"s":0.15,"t":640,"v":0.0015},{"s":0.15,"t":650,"v":0.0003},{"s":0.15,"t":660,"v":0.0008},{"s":0.15,"t":670,"v":0.0012},{"s":0.15,"t":680,"v":0.0004},{"s":0.15,"t":690,"v":0.001},{"s":0.15,"t":700,"v":0.0006},{"s":0.15,"t":710,"v":0.0014},{"s":0.15,"t":720,"v":0.0003},{"s":0.15,"t":730,"v":0.0009},{"s":0.15,"t":740,"v":0.0005},{"s":0.15,"t":750,"v":0.0012},{"s":0.15,"t":760,"v":0.0004},{"s":0.15,"t":770,"v":0.0011},{"s":0.15,"t":780,"v":0.0007},{"s":0.15,"t":790,"v":0.0013},{"s":0.15,"t":800,"v":0.0003}
   ]},
    "mark":{"type":"line","strokeWidth":1.4,"clip":true},
    "encoding":{
     "x":{"field":"t","type":"quantitative","scale":{"domain":[0,820],"nice":false,"zero":false},"axis":{"values":[0,100,200,300,400,500,600,700,800],"labelExpr":"datum.value % 200 == 0 ? datum.label : ''","title":"Time (μs)"}},
     "y":{"field":"v","type":"quantitative","scale":{"type":"log","domain":[0.0005,1.08],"nice":false},"axis":{"values":[0.0006,0.0007,0.0008,0.0009,0.001,0.002,0.003,0.004,0.005,0.006,0.007,0.008,0.009,0.01,0.02,0.03,0.04,0.05,0.06,0.07,0.08,0.09,0.1,0.2,0.3,0.4,0.5,0.6,0.7,0.8,0.9,1],"labelExpr":"datum.value == 1 ? '10⁰' : datum.value == 0.1 ? '10⁻¹' : datum.value == 0.01 ? '10⁻²' : datum.value == 0.001 ? '10⁻³' : ''","title":"Normalized Intensity (a.u.)","labelPadding":5,"titlePadding":0}},
     "color":{"field":"s","type":"nominal","scale":{"domain":[0.03,0.06,0.09,0.12,0.15],"range":["#7b7b7b","#e8464b","#3a72d4","#2e9c5c","#b47ae6"]},"legend":{"title":null,"orient":"none","legendX":187,"legendY":1,"symbolSize":182,"symbolStrokeWidth":3.5,"labelFontSize":14,"labelOffset":10,"rowPadding":-2,"labelExpr":"'x = ' + datum.label"}}
    }},
   {"data":{"values":[
{"t":62,"v":0.8,"lab":"Cs₂NaInCl₆:xCr³⁺"},{"t":537,"v":0.026,"lab":"λₑₓ = 292 nm"},{"t":531,"v":0.0145,"lab":"λₑₘ = 960 nm"}
   ]},
    "mark":{"type":"text","fontSize":13},
    "encoding":{"x":{"field":"t","type":"quantitative"},"y":{"field":"v","type":"quantitative"},"text":{"field":"lab"}}}
  ]},
  {"data":{"values":[
{"c":0.03,"l":48.2},{"c":0.06,"l":45.5},{"c":0.09,"l":41.4},{"c":0.12,"l":39.9},{"c":0.15,"l":37.2}
  ]},
   "layer":[
    {"mark":{"type":"rect","fill":"white","stroke":"#9a9a9a","strokeWidth":0.8},
     "encoding":{
      "x":{"datum":0.021,"type":"quantitative","scale":{"domain":[0.021,0.159],"range":[91,166],"nice":false,"zero":false},"axis":{"orient":"bottom","offset":-111,"values":[0.03,0.06,0.09,0.12,0.15],"format":".2f","labelFontSize":3.5,"labelPadding":1,"tickSize":1,"title":"x in Cs₂NaInCl₆:xCr³⁺","titleFontSize":5,"titlePadding":1}},
      "x2":{"datum":0.159},
      "y":{"datum":36,"type":"quantitative","scale":{"domain":[36,50],"range":[78,17],"nice":false,"zero":false},"axis":{"orient":"left","offset":-91,"values":[38,40,42,44,46,48],"labelFontSize":3.5,"labelPadding":1,"tickSize":1,"title":"Lifetime (μs)","titleFontSize":4.5,"titlePadding":1}},
      "y2":{"datum":50}
     }},
    {"mark":{"type":"line","color":"#f2a3d3","strokeWidth":0.9},
     "encoding":{"x":{"field":"c","type":"quantitative"},"y":{"field":"l","type":"quantitative"}}},
    {"mark":{"type":"point","filled":true,"color":"#f0a02a","size":12,"opacity":1},
     "encoding":{"x":{"field":"c","type":"quantitative"},"y":{"field":"l","type":"quantitative"}}}
   ]}
 ]
}
]
}
